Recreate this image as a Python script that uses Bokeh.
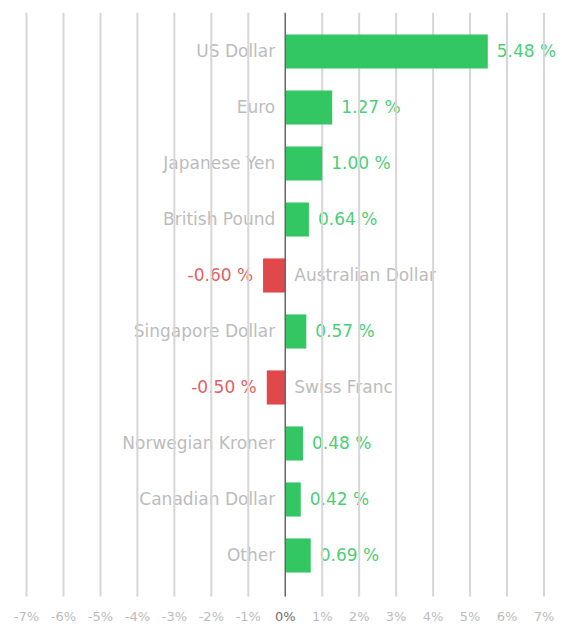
from bokeh.plotting import figure
from bokeh.models import Range1d, ColumnDataSource
from bokeh.embed import file_html
from bokeh.resources import INLINE
from bokeh.core.properties import value

categories = ["US Dollar", "Euro", "Japanese Yen", "British Pound", "Australian Dollar",
              "Singapore Dollar", "Swiss Franc", "Norwegian Kroner", "Canadian Dollar", "Other"]
values = [5.48, 1.27, 1.00, 0.64, -0.60, 0.57, -0.50, 0.48, 0.42, 0.69]
tick_values = list(range(-7, 8))
tick_labels = [f"{t}%" for t in tick_values]

GREEN = "#33c764"
RED = "#e0484b"
GRAY_TXT = "#bcbcbc"
FONT = "DejaVu Sans"

# layout constants (category index space)
Y_TOP = -0.696
Y_GRID_BOTTOM = 9.732
Y_TICK_LABEL = 10.09
Y_BOTTOM = 10.268

idx = list(range(len(categories)))
pos = [i for i in idx if values[i] >= 0]
neg = [i for i in idx if values[i] < 0]

def src(ids):
    return ColumnDataSource(dict(
        y=list(ids),
        v=[values[i] for i in ids],
        cat=[categories[i] for i in ids],
        lab=[f"{values[i]:.2f} %" for i in ids],
        zero=[0 for _ in ids],
    ))

sp = src(pos)
sn = src(neg)

p = figure(frame_width=562, frame_height=614,
           x_range=Range1d(-7.704, 7.501), y_range=Range1d(Y_BOTTOM, Y_TOP),
           output_backend="svg", toolbar_location=None,
           min_border_left=0, min_border_right=0, min_border_top=12, min_border_bottom=0)
p.outline_line_color = None
p.background_fill_color = "white"
p.border_fill_color = "white"
p.axis.visible = False
p.grid.visible = False

# grid lines (through the tick values)
nonzero = [t for t in tick_values if t != 0]
p.segment(x0=nonzero, x1=nonzero, y0=[Y_TOP] * len(nonzero), y1=[Y_GRID_BOTTOM] * len(nonzero),
          line_color="#d6d6d6", line_width=2)

# bars
p.hbar(y="y", left="zero", right="v", height=0.61, source=sp, color=GREEN, line_color=None)
p.hbar(y="y", left="v", right="zero", height=0.61, source=sn, color=RED, line_color=None)

# zero line
p.segment(x0=[0], x1=[0], y0=[Y_TOP], y1=[Y_GRID_BOTTOM], line_color="#666666", line_width=1.5)

# tick labels
tick_colors = ["#707070" if t == 0 else GRAY_TXT for t in tick_values]
p.text(x=tick_values, y=[Y_TICK_LABEL] * len(tick_values), text=tick_labels,
       text_color=tick_colors, text_align="center", text_baseline="middle",
       text_font=value(FONT), text_font_size="13px")

# category labels
r1 = p.text(x="zero", y="y", text="cat", source=sp, x_offset=-10, text_align="right",
            text_baseline="middle", text_font=value(FONT), text_font_size="17px", text_color=GRAY_TXT)
r2 = p.text(x="zero", y="y", text="cat", source=sn, x_offset=9, text_align="left",
            text_baseline="middle", text_font=value(FONT), text_font_size="17px", text_color=GRAY_TXT)
# value labels
r3 = p.text(x="v", y="y", text="lab", source=sp, x_offset=9, text_align="left",
            text_baseline="middle", text_font=value(FONT), text_font_size="17px",
            text_color=GREEN, text_alpha=0.9)
r4 = p.text(x="v", y="y", text="lab", source=sn, x_offset=-10, text_align="right",
            text_baseline="middle", text_font=value(FONT), text_font_size="17px",
            text_color=RED, text_alpha=0.9)
for r in (r1, r2, r3, r4):
    r.level = "image"

open("out.html", "w").write(file_html(p, INLINE))
